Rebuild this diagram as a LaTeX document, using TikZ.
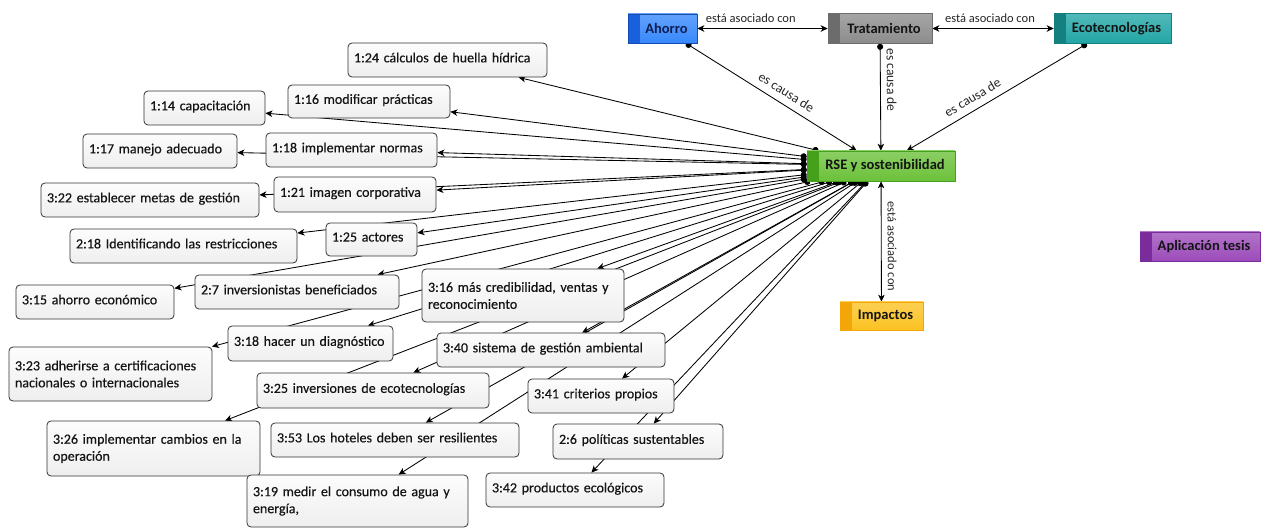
\documentclass[tikz,border=0pt]{standalone}
\usepackage{fontspec}
\setmainfont{Carlito}
\newfontfamily\boxfont[FakeBold=0.35]{Carlito}
\usetikzlibrary{arrows.meta,backgrounds}

\definecolor{ahorroC}{HTML}{3788FC}
\definecolor{ahorroS}{HTML}{1A5FDC}
\definecolor{tratC}{HTML}{8C8C8C}
\definecolor{tratS}{HTML}{6C6C6C}
\definecolor{ecoC}{HTML}{22A5A5}
\definecolor{ecoS}{HTML}{14807F}
\definecolor{rseC}{HTML}{6CC13A}
\definecolor{rseS}{HTML}{45A01C}
\definecolor{impC}{HTML}{FBC222}
\definecolor{impS}{HTML}{F2A60A}
\definecolor{aplC}{HTML}{9C4CBA}
\definecolor{aplS}{HTML}{7B2C9B}
\definecolor{inkC}{HTML}{141414}
\definecolor{navyC}{HTML}{0E1E55}

\tikzset{
  cnode/.style n args={3}{draw=#2, line width=0.6pt,
    top color=#1!78!white, bottom color=#1,
    path picture={\fill[#3] (path picture bounding box.north west)
      rectangle ([xshift=12pt]path picture bounding box.south west);},
    font=\bfseries\fontsize{14.5}{17}\selectfont, text=inkC,
    inner sep=0pt, minimum height=29pt},
  gbox/.style={draw=black!80, line width=0.8pt, rounded corners=4pt,
    top color=gray!2, bottom color=gray!13, align=left,
    inner xsep=6pt, inner ysep=2pt, text=inkC,
    font=\boxfont\fontsize{14}{17}\selectfont},
  single/.style={gbox, text depth=5pt},
  conn/.style={draw=black, line width=0.85pt,
    {Circle[length=6pt]}-{Stealth[length=7pt,width=6.5pt,inset=2pt]}},
  biconn/.style={draw=black, line width=0.85pt,
    {Stealth[length=7pt,width=6.5pt,inset=2pt]}-{Stealth[length=7pt,width=6.5pt,inset=2pt]}},
  lbl/.style={font=\fontsize{12.5}{14}\selectfont, text=black!85, inner sep=2pt},
  lblc/.style={font=\fontsize{13.5}{15}\selectfont, text=black!85, inner sep=2pt}
}

\begin{document}
\begin{tikzpicture}[x=1pt,y=-1pt]
\useasboundingbox (0,0) rectangle (1264,529);

% central and category nodes
\node[cnode={ahorroC}{ahorroS!80!black}{ahorroS}, minimum width=69pt, text=navyC] (ahorro) at (662.5,28.5) {\hspace*{8pt}Ahorro};
\node[cnode={tratC}{tratS}{tratS}, minimum width=104pt, minimum height=30pt] (trat) at (880,28.5) {\hspace*{8pt}Tratamiento};
\node[cnode={ecoC}{ecoS}{ecoS}, minimum width=117pt, minimum height=30pt] (eco) at (1112.5,28.5) {\hspace*{8pt}Ecotecnologías};
\node[cnode={rseC}{rseS}{rseS}, minimum width=148pt, minimum height=30pt] (rse) at (881,166) {\hspace*{8pt}RSE y sostenibilidad};
\node[cnode={impC}{impS}{impS}, minimum width=83pt, minimum height=28pt] (imp) at (881.5,316) {\hspace*{8pt}Impactos};
\node[cnode={aplC}{aplS}{aplS}, minimum width=120pt] (apl) at (1200,246.5) {\hspace*{8pt}Aplicación tesis};

% quotation boxes
\node[single, text width=187pt, minimum height=34pt] (b124) at (447.5,60) {1:24 cálculos de huella hídrica};
\node[single, text width=150pt, minimum height=33pt] (b116) at (369,101.5) {1:16 modificar prácticas};
\node[single, text width=109pt, minimum height=34pt] (b114) at (204.5,108) {1:14 capacitación};
\node[single, text width=159pt, minimum height=34pt] (b118) at (351.5,150) {1:18 implementar normas};
\node[single, text width=142pt, minimum height=34pt] (b117) at (160,151) {1:17 manejo adecuado};
\node[single, text width=150pt, minimum height=35pt] (b121) at (355,194.5) {1:21 imagen corporativa};
\node[single, text width=206pt, minimum height=34pt] (b322) at (150,200) {3:22 establecer metas de gestión};
\node[single, text width=79pt, minimum height=33pt] (b125) at (371.5,239.5) {1:25 actores};
\node[single, text width=215pt, minimum height=34pt] (b218) at (183.5,246) {2:18 Identificando las restricciones};
\node[single, text width=192pt, minimum height=34pt] (b27) at (297,292) {2:7 inversionistas beneficiados};
\node[single, text width=146pt, minimum height=34pt] (b315) at (95,302) {3:15 ahorro económico};
\node[gbox, text width=190pt, minimum height=53pt] (b316) at (523,295.5) {3:16 más credibilidad, ventas y\\reconocimiento};
\node[single, text width=153pt, minimum height=35pt] (b318) at (310.5,343.5) {3:18 hacer un diagnóstico};
\node[gbox, text width=191pt, minimum height=54pt] (b323) at (110.5,374) {3:23 adherirse a certificaciones\\nacionales o internacionales};
\node[single, text width=216pt, minimum height=34pt] (b340) at (551,350) {3:40 sistema de gestión ambiental};
\node[single, text width=220pt, minimum height=35pt] (b325) at (373,390.5) {3:25 inversiones de ecotecnologías};
\node[single, text width=134pt, minimum height=34pt] (b341) at (601,396) {3:41 criterios propios};
\node[gbox, text width=201pt, minimum height=55pt] (b326) at (153.5,448.5) {3:26 implementar cambios en la\\operación};
\node[single, text width=236pt, minimum height=34pt] (b353) at (395,440) {3:53 Los hoteles deben ser resilientes};
\node[single, text width=158pt, minimum height=35pt] (b26) at (638,441.5) {2:6 políticas sustentables};
\node[gbox, text width=209pt, minimum height=52pt] (b319) at (357.5,501) {3:19 medir el consumo de agua y\\energía,};
\node[single, text width=166pt, minimum height=34pt] (b342) at (575,490) {3:42 productos ecológicos};

% connectors, kept underneath the boxes
\begin{scope}[on background layer]
  \foreach \b in {b124,b116,b114,b118,b117,b121,b322,b125,b218,b27,b315,
                  b316,b318,b323,b340,b325,b341,b326,b353,b26,b319,b342}
    \draw[conn] (rse) -- (\b);
  \draw[conn] (ahorro) -- node[lblc, sloped, above=5pt, pos=0.55] {es causa de} (rse);
  \draw[conn] (trat) -- node[lblc, sloped, above=4pt, pos=0.34] {es causa de} (rse);
  \draw[conn] (eco) -- node[lblc, sloped, above=5pt, pos=0.6] {es causa de} (rse);
  \draw[biconn] (ahorro) -- node[lbl, above=3pt, pos=0.41] {está asociado con} (trat);
  \draw[biconn] (trat) -- node[lbl, above=3pt, pos=0.475] {está asociado con} (eco);
  \draw[biconn] (rse) -- node[lbl, sloped, above=4pt, pos=0.54] {está asociado con} (imp);
\end{scope}
\end{tikzpicture}
\end{document}
